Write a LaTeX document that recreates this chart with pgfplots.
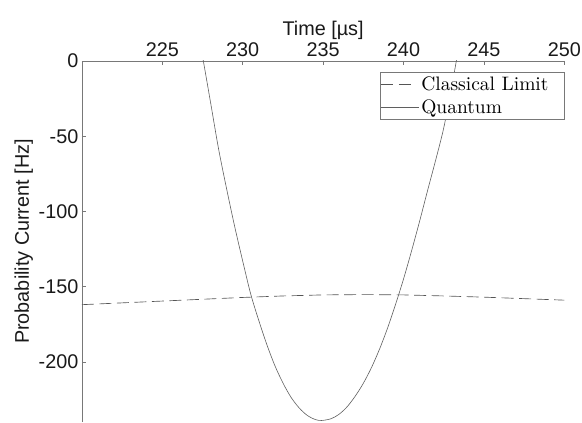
\documentclass[border=0pt]{standalone}
\usepackage{fontspec}
\setmainfont{Latin Modern Roman}
\newfontfamily\lmten{lmroman10-regular.otf}
\newfontfamily\arialish{Liberation Sans}
\usepackage{pgfplots}
\usepackage{pgfplotstable}
\pgfplotsset{compat=1.18}
\definecolor{axgray}{RGB}{120,120,120}
\definecolor{curvegray}{RGB}{95,95,95}
\pgfplotsset{
    shortimage/.style={legend image code/.code={\draw[##1] (0pt,0pt) -- (31pt,0pt);}},
}

% classical limit (dashed)
\pgfplotstableread{
t v
220.0 -162.0
222.5 -160.8
225.0 -159.6
227.5 -158.4
230.0 -157.2
232.5 -156.2
235.0 -155.5
237.5 -155.3
240.0 -155.5
242.5 -156.2
245.0 -157.0
247.5 -158.0
250.0 -159.0
}\classical

% quantum (solid)
\pgfplotstableread{
t v
227.3 12.0
227.5 3.0
228.0 -27.5
228.5 -58.5
229.0 -85.0
229.5 -110.0
230.0 -133.0
230.5 -155.0
231.0 -172.5
231.5 -188.5
232.0 -202.5
232.5 -214.0
233.0 -223.5
233.5 -230.5
234.0 -235.5
234.5 -238.3
234.9 -239.0
235.5 -237.8
236.0 -234.8
236.5 -229.8
237.0 -222.8
237.5 -214.3
238.0 -204.0
238.5 -191.8
239.0 -177.8
239.5 -162.0
240.0 -145.0
240.5 -126.3
241.0 -106.6
241.5 -86.0
242.0 -65.9
242.5 -44.6
243.0 -17.0
243.5 13.0
}\quantum

\begin{document}
\begin{tikzpicture}
\begin{axis}[
    scale only axis,
    width=482.4pt, height=361pt,
    xmin=220, xmax=250,
    ymin=-240, ymax=0,
    axis x line=top,
    axis y line=left,
    axis line style={-, axgray, line width=0.6pt},
    tick align=inside,
    major tick length=4pt,
    tick style={axgray, line width=0.6pt},
    xtick={225,230,...,250},
    ytick={-200,-150,-100,-50,0},
    /pgf/number format/assume math mode=true,
    ticklabel style={font=\arialish\fontsize{19.8}{23}\selectfont, text=black!90},
    xticklabel style={yshift=1pt},
    xlabel={Time [µs]},
    ylabel={Probability Current [Hz]},
    label style={font=\arialish\fontsize{19.8}{23}\selectfont, text=black!90},
    xlabel style={yshift=-4pt},
    ylabel style={yshift=-1pt},
    legend style={
        at={(rel axis cs:1,0.969)}, anchor=north east,
        draw=axgray, line width=0.6pt,
        font=\lmten\fontsize{19.5}{23}\selectfont,
        inner xsep=1pt, inner ysep=0.5pt,
        row sep=0pt,
        nodes={inner xsep=1.5pt, inner ysep=3.8pt},
    },
    legend cell align=left,
    legend image code/.code={\draw[#1] (0pt,0pt) -- (38pt,0pt);},
]
\addplot[curvegray!90!black, line width=0.65pt, dash pattern=on 12pt off 5.5pt, shortimage] table[x=t, y=v] {\classical};
\addlegendentry{Classical Limit\hspace*{13pt}}
\addplot[curvegray, line width=0.6pt, smooth] table[x=t, y=v] {\quantum};
\addlegendentry{Quantum}
\end{axis}
\pgfresetboundingbox
\path ([xshift=-81.9pt]current axis.south west) rectangle ([xshift=17.7pt,yshift=61pt]current axis.north east);
\end{tikzpicture}
\end{document}
